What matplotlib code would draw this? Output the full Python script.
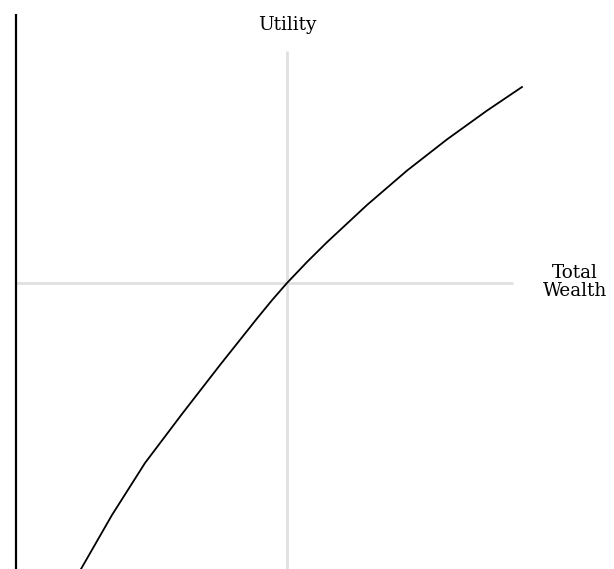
import matplotlib
matplotlib.use("Agg")
import matplotlib.pyplot as plt

# Utility curve (wealth, utility)
wealth = [-2.06, -1.75, -1.42, -1.05, -0.67, -0.30, -0.15, 0.0, 0.20, 0.40,
          0.80, 1.20, 1.60, 2.00, 2.35]
utility = [-2.86, -2.32, -1.80, -1.31, -0.82, -0.355, -0.172, 0.0, 0.21, 0.408,
           0.78, 1.124, 1.436, 1.724, 1.96]

x_label = "Total\nWealth"
y_label = "Utility"

fig = plt.figure(figsize=(6.14, 5.69), dpi=100)
ax = fig.add_axes([0, 0, 1, 1])
ax.set_xlim(-2.87, 3.27)
ax.set_ylim(-2.86, 2.83)
ax.axis("off")

grey = "#e0e0e0"
# crosshair axes
ax.plot([0, 0], [-2.86, 2.32], color=grey, lw=2, solid_capstyle="butt", zorder=1)
ax.plot([-2.71, 2.26], [0, 0], color=grey, lw=2, solid_capstyle="butt", zorder=1)
# left black line
ax.plot([-2.71, -2.71], [-2.86, 2.69], color="black", lw=1.6, solid_capstyle="butt", zorder=2)

ax.plot(wealth, utility, color="black", lw=1.3, zorder=3,
        solid_joinstyle="round")

font = ["DejaVu Serif"]
ax.text(0, 2.58, y_label, ha="center", va="center", fontsize=13.3, family=font)
ax.text(2.88, 0.01, x_label, ha="center", va="center", fontsize=13.2, family=font,
        linespacing=0.95)

fig.savefig("out.png", dpi=100)
